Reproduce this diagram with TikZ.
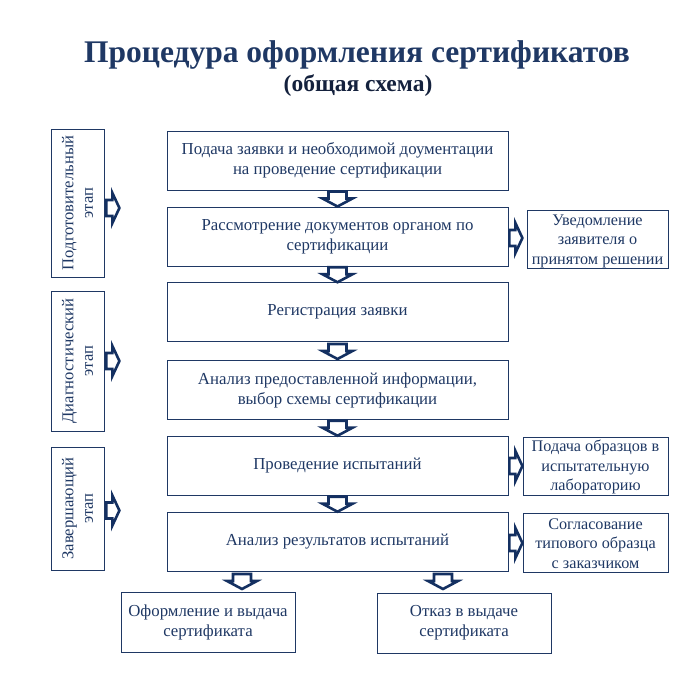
\documentclass[tikz,border=0pt]{standalone}
\usepackage{fontspec}
\setmainfont{Liberation Serif}
\usetikzlibrary{calc}
\definecolor{navy}{HTML}{1F3864}
\definecolor{arrnavy}{HTML}{143061}
\definecolor{subnavy}{HTML}{14213D}
\begin{document}
\begin{tikzpicture}[x=1pt,y=-1pt,
  box/.style={draw=navy, line width=0.8pt, align=center, text=navy,
    font=\fontsize{16.8}{20}\selectfont, inner sep=0pt},
  stagebox/.style={box, minimum width=53pt},
  stagetext/.style={rotate=90, align=center, text=navy, font=\fontsize{16.6}{19.5}\selectfont},
  mainbox/.style={box, minimum width=341pt, minimum height=59pt},
  sidebox/.style={box, font=\fontsize{16.2}{19.5}\selectfont},
  sidetext/.style={align=center, text=navy, font=\fontsize{16.2}{19.5}\selectfont, inner sep=0pt},
  arr/.style={draw=arrnavy, line width=2.6pt, fill=white, line join=miter},
  darr/.pic={\path[arr] (-9,-7) -- (9,-7) -- (9,0) -- (15,0) -- (0,8) -- (-15,0) -- (-9,0) -- cycle;},
  rarr/.pic={\path[arr] (-6,-8) -- (0,-8) -- (0,-15) -- (7,0) -- (0,15) -- (0,8) -- (-6,8) -- cycle;}
]
\useasboundingbox (0,0) rectangle (700,700);

% titles
\node[text=navy, font=\bfseries\fontsize{31.5}{36}\selectfont] (t1) at (357,55) {Процедура оформления сертификатов};
\node[text=subnavy, font=\bfseries\fontsize{23.5}{28}\selectfont] (t2) at (358,86) {(общая схема)};

% stage boxes
\node[stagebox, minimum height=148pt] (s1) at (77.5,203) {};
\node[stagetext] (s1t) at (s1.center) {Подготовительный\\этап};
\node[stagebox, minimum height=140pt] (s2) at (77.5,361) {};
\node[stagetext] (s2t) at (s2.center) {Диагностический\\этап};
\node[stagebox, minimum height=123pt] (s3) at (77.5,508.5) {};
\node[stagetext] (s3t) at (s3.center) {Завершающий\\этап};

% main boxes
\node[mainbox] (b1) at (337.5,160.5) {Подача заявки и необходимой доументации\\на проведение сертификации};
\node[mainbox] (b2) at (337.5,236.5) {Рассмотрение документов органом по\\сертификации};
\node[mainbox] (b3) at (337.5,312) {Регистрация заявки};
\node[mainbox] (b4) at (337.5,390) {Анализ предоставленной информации,\\выбор схемы сертификации};
\node[mainbox] (b5) at (337.5,465.5) {Проведение испытаний};
\node[mainbox] (b6) at (337.5,542) {Анализ результатов испытаний};

% right boxes
\node[sidebox, minimum width=141pt, minimum height=58pt] (r1) at (597.5,239) {};
\node[sidetext] (r1t) at ($(r1.center)+(0,2)$) {Уведомление\\заявителя о\\принятом решении};
\node[sidebox, minimum width=145pt, minimum height=58pt] (r2) at (595.5,466) {};
\node[sidetext] (r2t) at ($(r2.center)+(0,1)$) {Подача образцов в\\испытательную\\лабораторию};
\node[sidebox, minimum width=145pt, minimum height=59pt] (r3) at (595.5,542.5) {};
\node[sidetext] (r3t) at ($(r3.center)+(0,1)$) {Согласование\\типового образца\\с заказчиком};

% bottom boxes
\node[box, minimum width=174pt, minimum height=60pt] (o1) at (208,622) {Оформление и выдача\\сертификата};
\node[box, minimum width=174pt, minimum height=60pt] (o2) at (464,623) {Отказ в выдаче\\сертификата};

% down arrows between main boxes
\pic at ($(b1.south)!0.5!(b2.north)$) {darr};
\pic at ($(b2.south)!0.5!(b3.north)$) {darr};
\pic at ($(b3.south)!0.5!(b4.north)$) {darr};
\pic at ($(b4.south)!0.5!(b5.north)$) {darr};
\pic at ($(b5.south)!0.5!(b6.north)$) {darr};

% bottom arrows
\pic at (242,581) {darr};
\pic at (443,581) {darr};

% stage arrows
\pic at ($(s1.east)+(8,5)$) {rarr};
\pic at ($(s2.east)+(8,0)$) {rarr};
\pic at ($(s3.east)+(8,2)$) {rarr};

% right arrows
\pic at ($(b2.east)+(7,1.5)$) {rarr};
\pic at ($(b5.east)+(7,0.5)$) {rarr};
\pic at ($(b6.east)+(7,1)$) {rarr};
\end{tikzpicture}
\end{document}
